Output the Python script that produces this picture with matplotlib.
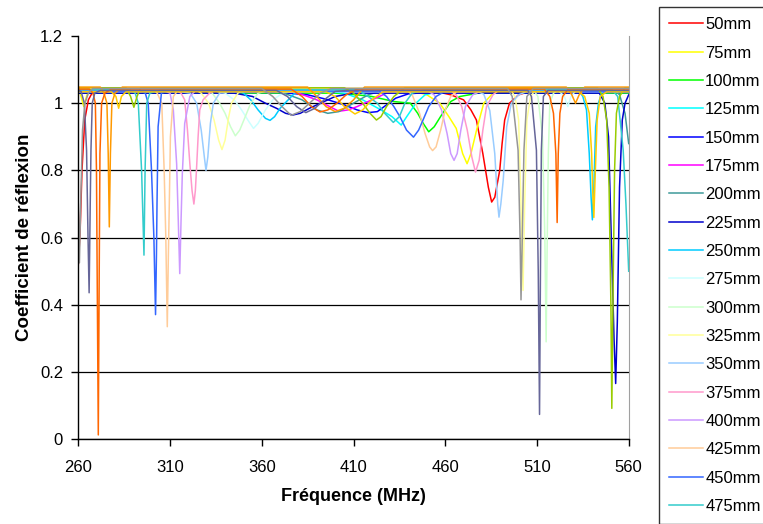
import matplotlib
matplotlib.use("Agg")
import matplotlib.pyplot as plt

plt.rcParams['font.family'] = ['Liberation Sans', 'DejaVu Sans']

labels = ["50mm", "75mm", "100mm", "125mm", "150mm", "175mm", "200mm", "225mm",
          "250mm", "275mm", "300mm", "325mm", "350mm", "375mm", "400mm", "425mm",
          "450mm", "475mm", "500mm", "525mm", "550mm", "575mm", "600mm", "625mm"]

colors = ["#FF0000", "#FFFF00", "#00FF00", "#00FFFF", "#0000FF", "#FF00FF", "#3F9A9A", "#0000CC",
          "#00CCFF", "#CCFFFF", "#CCFFCC", "#FFFF99", "#99CCFF", "#FF99CC", "#CC99FF", "#FFCC99",
          "#3366FF", "#33CCCC", "#99CC00", "#FFCC00", "#FF9900", "#FF6600", "#666699", "#969696"]

# number of legend entries visible inside the picture
n_legend_visible = 18

# (frequency MHz, reflection coefficient) points
k50 = [(260, 0.52), (261, 0.62), (262, 0.80), (263.5, 0.95), (265.5, 1.01), (268, 1.035), (455, 1.035),
       (463, 1.025), (470, 1.01), (474, 0.98), (477, 0.95), (480.5, 0.85), (483.5, 0.75), (485.3, 0.706),
       (487, 0.72), (489.7, 0.80), (491, 0.88), (492.4, 0.95), (495, 1.0), (500, 1.025), (506, 1.035), (560, 1.035)]
k75 = [(260, 1.045), (261.5, 1.02), (263, 0.99), (264.5, 1.02), (266, 1.045), (440, 1.04), (450, 1.025),
       (457, 1.0), (462, 0.96), (466, 0.925), (469.5, 0.85), (471.9, 0.82), (474, 0.85), (477.3, 0.925),
       (479.5, 0.97), (481, 1.0), (486, 1.03), (495, 1.045), (560, 1.045)]
k100 = [(260, 1.03), (400, 1.03), (412, 1.025), (420, 1.02), (432, 1.005), (441, 1.0), (445, 0.97),
        (448, 0.94), (451, 0.915), (454, 0.93), (458, 0.965), (463, 1.005), (468, 1.02), (478, 1.03), (560, 1.03)]
k125 = [(260, 1.04), (390, 1.04), (405, 1.03), (415, 1.01), (425, 0.98), (431, 0.96), (436, 0.935),
        (439, 0.96), (444, 1.0), (449, 1.025), (460, 1.04), (560, 1.04)]
k150 = [(260, 1.032), (370, 1.032), (385, 1.025), (395, 1.012), (405, 0.995), (412, 0.98), (418, 0.972),
        (423, 0.975), (428, 0.995), (433, 1.015), (440, 1.028), (450, 1.032), (560, 1.032)]
k175 = [(260, 1.038), (370, 1.038), (380, 1.03), (390, 1.01), (397, 0.99), (402, 0.976), (407, 0.98),
        (412, 0.99), (420, 1.01), (428, 1.03), (440, 1.038), (560, 1.038)]
k200 = [(260, 1.042), (360, 1.042), (372, 1.03), (382, 1.01), (390, 0.98), (396, 0.97), (402, 0.975),
        (410, 1.0), (418, 1.025), (428, 1.042), (552, 1.042), (555, 1.025), (558, 0.97), (560, 0.88)]
k225 = [(260, 1.03), (345, 1.03), (355, 1.02), (362, 1.0), (368, 0.985), (373, 0.97), (377, 0.965),
        (381, 0.97), (386, 0.985), (392, 1.0), (400, 1.02), (410, 1.03), (544, 1.03), (547, 1.0),
        (549, 0.9), (550.5, 0.6), (552, 0.3), (552.9, 0.166), (553.8, 0.35), (555, 0.75), (556.5, 0.95),
        (558, 1.0), (560, 1.025)]
k250 = [(260, 1.044), (345, 1.044), (350, 1.03), (354, 1.01), (358, 0.98), (362, 0.955), (364.5, 0.949),
        (367, 0.96), (370, 0.985), (373.5, 1.005), (378, 1.03), (385, 1.044), (532, 1.044), (535, 1.02),
        (537, 0.98), (538.5, 0.85), (539.5, 0.72), (540.2, 0.653), (541, 0.75), (542, 0.93), (543.5, 1.0),
        (546, 1.044), (560, 1.044)]
k275 = [(260, 1.036), (335, 1.036), (340, 1.03), (345, 1.01), (349, 0.98), (353, 0.945), (355.5, 0.925),
        (358, 0.94), (362, 0.98), (366, 1.01), (372, 1.032), (380, 1.036), (522, 1.036), (525, 1.02),
        (526.8, 0.99), (528.5, 1.02), (531, 1.036), (560, 1.036)]
k300 = [(260, 1.04), (328, 1.04), (333, 1.03), (337, 1.0), (340, 0.97), (343, 0.93), (345.6, 0.903),
        (348, 0.92), (351, 0.96), (354, 1.0), (358, 1.03), (365, 1.04), (508, 1.04), (510.5, 1.02),
        (513, 0.9), (514.3, 0.6), (515, 0.29), (515.5, 0.55), (516.2, 0.85), (517, 1.0), (519, 1.03),
        (522, 1.04), (560, 1.04)]
k325 = [(260, 1.046), (322, 1.046), (327, 1.03), (331, 1.0), (334, 0.95), (336.5, 0.89), (338.3, 0.862),
        (340, 0.89), (342, 0.96), (343.5, 1.0), (347, 1.03), (352, 1.046), (495, 1.046), (498, 1.02),
        (500, 0.95), (501.3, 0.7), (502.4, 0.443), (503.3, 0.7), (504.5, 0.95), (506.5, 1.02), (510, 1.046),
        (560, 1.046)]
k350 = [(260, 1.034), (316, 1.034), (321, 1.03), (324.5, 1.0), (327, 0.92), (328.7, 0.84), (329.6, 0.80),
        (330.6, 0.84), (332, 0.94), (333.6, 1.0), (337, 1.03), (342, 1.034), (478, 1.034), (481, 1.027),
        (484.3, 0.978), (487, 0.85), (488.6, 0.70), (489.3, 0.661), (490.3, 0.70), (491.6, 0.77), (493.5, 0.93),
        (496, 1.0), (500, 1.025), (504, 1.034), (560, 1.034)]
k375 = [(260, 1.042), (312, 1.042), (316, 1.03), (318, 1.01), (319.5, 0.92), (320.8, 0.82), (322, 0.74),
        (323, 0.70), (323.8, 0.74), (324.4, 0.80), (325.3, 0.90), (326.2, 0.98), (328, 1.01), (331.6, 1.03),
        (336, 1.042), (462, 1.042), (466, 1.025), (469, 0.99), (472, 0.92), (474.5, 0.84), (476.5, 0.795),
        (478.5, 0.83), (480.5, 0.92), (482.5, 0.99), (486, 1.025), (490, 1.042), (560, 1.042)]
k400 = [(260, 1.038), (306, 1.038), (310, 1.03), (311.8, 0.98), (313.6, 0.82), (314.5, 0.65), (315.3, 0.493),
        (316, 0.65), (316.7, 0.79), (318, 0.94), (320.8, 1.02), (324, 1.038), (450, 1.038), (454, 1.025),
        (458, 0.98), (461, 0.91), (463, 0.85), (464.8, 0.83), (466.5, 0.85), (468.5, 0.92), (471, 0.99),
        (475, 1.025), (480, 1.038), (560, 1.038)]
k425 = [(260, 1.044), (300, 1.044), (303, 1.03), (305.5, 1.0), (306.8, 0.80), (307.7, 0.60), (308.5, 0.335),
        (309.1, 0.55), (309.6, 0.70), (310.2, 0.90), (311.8, 1.02), (315, 1.044), (438, 1.044), (442, 1.025),
        (446, 0.97), (449, 0.91), (451.5, 0.87), (453.1, 0.859), (455, 0.87), (457.5, 0.92), (460, 0.98),
        (463, 1.02), (468, 1.044), (560, 1.044)]
k450 = [(260, 1.036), (294, 1.036), (296.5, 1.03), (298.1, 1.0), (299.9, 0.80), (301.2, 0.60), (302.1, 0.371),
        (302.6, 0.55), (302.9, 0.70), (303.5, 0.93), (305.3, 1.03), (309, 1.036), (424, 1.036), (428, 1.02),
        (432, 0.99), (435.3, 0.96), (438.9, 0.92), (442.7, 0.899), (445.5, 0.92), (447.9, 0.95), (451, 0.99),
        (455, 1.02), (460, 1.036), (560, 1.036)]
k475 = [(260, 1.04), (288, 1.04), (291, 1.03), (292.7, 1.0), (294.5, 0.80), (295.8, 0.548), (296.4, 0.80),
        (297.3, 1.0), (299, 1.03), (305, 1.04), (412, 1.04), (418, 1.02), (423, 1.0), (427, 0.97),
        (431.7, 0.943), (435, 0.96), (438, 1.0), (442, 1.03), (448, 1.04), (551, 1.04), (554, 1.02),
        (557, 0.86), (558.5, 0.70), (560, 0.50)]
k500 = [(260, 1.046), (286, 1.046), (288.5, 1.02), (290.3, 0.988), (292, 1.02), (294, 1.046), (405, 1.046),
        (410, 1.03), (415, 1.0), (419, 0.97), (422.5, 0.95), (425, 0.96), (428, 0.99), (432, 1.02),
        (438, 1.046), (543, 1.046), (546, 1.02), (548, 0.95), (549.3, 0.75), (550.3, 0.4), (550.8, 0.092),
        (551.5, 0.45), (552.3, 0.8), (553.3, 0.97), (555, 1.02), (558, 1.046), (560, 1.046)]
k525 = [(260, 1.034), (278, 1.034), (280.5, 1.02), (282, 0.985), (283.5, 1.02), (286, 1.034), (395, 1.034),
        (400, 1.02), (405, 0.99), (410.8, 0.968), (415, 0.98), (420, 1.01), (426, 1.034), (533, 1.034),
        (536, 1.02), (538.5, 0.97), (539.8, 0.85), (540.5, 0.72), (541, 0.66), (541.7, 0.78), (542.8, 0.95),
        (544.5, 1.02), (548, 1.034), (560, 1.034)]
k550 = [(260, 1.048), (272, 1.048), (274, 1.03), (275.6, 1.0), (276.3, 0.85), (276.9, 0.632), (277.5, 0.85),
        (278.3, 1.0), (280, 1.03), (284, 1.048), (385, 1.048), (390, 1.02), (395, 0.99), (400, 0.975),
        (405, 0.985), (410, 1.01), (416, 1.048), (526, 1.048), (529, 1.025), (531, 1.0), (533, 1.025),
        (536, 1.048), (560, 1.048)]
k575 = [(260, 1.042), (266, 1.042), (268, 1.03), (269.3, 1.0), (269.9, 0.8), (270.4, 0.4), (270.9, 0.013),
        (271.4, 0.5), (271.8, 0.85), (272.7, 1.0), (274.5, 1.03), (278, 1.042), (376, 1.042), (382, 1.02),
        (387, 0.99), (391.7, 0.974), (396, 0.98), (401, 1.0), (406, 1.025), (412, 1.042), (514, 1.042),
        (517, 1.02), (519, 0.97), (520.3, 0.85), (521, 0.645), (521.6, 0.85), (522.5, 0.97), (524, 1.02),
        (527, 1.042), (560, 1.042)]
k600 = [(260, 1.038), (261.5, 1.035), (263.3, 1.0), (264.5, 0.86), (265.3, 0.6), (265.9, 0.436), (266.5, 0.7),
        (266.9, 0.86), (267.6, 1.0), (269, 1.03), (272, 1.038), (368, 1.038), (374, 1.02), (379, 0.99),
        (384, 0.972), (389, 0.985), (394, 1.01), (400, 1.035), (406, 1.038), (505, 1.038), (507, 1.02),
        (509.7, 0.86), (510.7, 0.5), (511.4, 0.074), (511.9, 0.5), (512.4, 0.86), (513.5, 1.02), (516, 1.038),
        (560, 1.038)]
k625 = [(260, 0.70), (260.6, 0.525), (261.3, 0.70), (262.3, 0.92), (263.6, 1.0), (265.5, 1.03), (268, 1.044),
        (360, 1.044), (366, 1.02), (371, 0.99), (376, 0.964), (381, 0.975), (386, 1.0), (392, 1.03),
        (398, 1.044), (494, 1.044), (496.5, 1.02), (499.7, 0.86), (500.8, 0.6), (501.3, 0.415), (502, 0.6),
        (502.9, 0.86), (504.5, 1.02), (508, 1.044), (560, 1.044)]

series = [k50, k75, k100, k125, k150, k175, k200, k225, k250, k275, k300, k325,
          k350, k375, k400, k425, k450, k475, k500, k525, k550, k575, k600, k625]

xticks = [260, 310, 360, 410, 460, 510, 560]
yticks = [0, 0.2, 0.4, 0.6, 0.8, 1.0, 1.2]
ytick_labels = ["0", "0.2", "0.4", "0.6", "0.8", "1", "1.2"]

fig = plt.figure(figsize=(7.63, 5.24), dpi=100)
ax = fig.add_axes([78.3 / 763, 1 - 439.3 / 524, (628.7 - 78.3) / 763, (439.3 - 36) / 524])

handles = []
for pts, c, lab in zip(series, colors, labels):
    xs = [p[0] for p in pts]
    ys = [p[1] for p in pts]
    ln, = ax.plot(xs, ys, color=c, lw=1.1, label=lab, solid_joinstyle='round')
    handles.append(ln)

ax.set_xlim(260, 560)
ax.set_ylim(0, 1.2)
ax.set_xticks(xticks)
ax.set_yticks(yticks)
ax.set_yticklabels(ytick_labels)
ax.tick_params(direction='out', length=5, width=1, labelsize=12, colors='black')
ax.tick_params(axis='x', pad=10)
ax.tick_params(axis='y', pad=6)
ax.grid(axis='y', color='black', lw=0.9)
ax.set_axisbelow(True)
ax.get_ygridlines()[-1].set_visible(False)
ax.spines['top'].set_visible(False)
ax.spines['right'].set_color('#A0A0A0')
ax.spines['left'].set_linewidth(1)
ax.spines['bottom'].set_linewidth(1)

ax.set_xlabel("Fréquence (MHz)", fontsize=13, fontweight='bold', labelpad=9)
ax.set_ylabel("Coefficient de réflexion", fontsize=13.5, fontweight='bold', labelpad=5)

leg = fig.legend(handles[:n_legend_visible], labels[:n_legend_visible],
                 loc='upper left', bbox_to_anchor=(659.3 / 763, 1 - 7.3 / 524), bbox_transform=fig.transFigure,
                 fontsize=12, frameon=True, fancybox=False, edgecolor='black', borderaxespad=0,
                 handlelength=2.0, handletextpad=0.15, labelspacing=0.80, borderpad=0.6)
leg.get_frame().set_linewidth(1)

fig.savefig("out.png", dpi=100)
